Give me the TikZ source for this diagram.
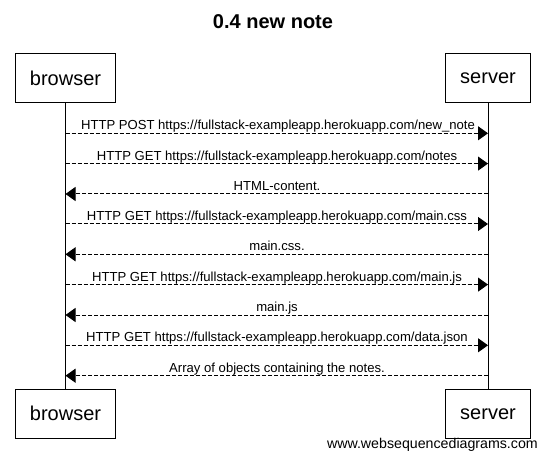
\documentclass[tikz,border=0pt]{standalone}
\usepackage{fontspec}
\setmainfont{Liberation Sans}
\usetikzlibrary{arrows.meta}
\begin{document}
\begin{tikzpicture}[x=1pt,y=-1pt,
  actor/.style={draw, line width=1pt, minimum height=49pt, inner sep=0pt, font=\fontsize{20}{24}\selectfont},
  msg/.style={draw, line width=1pt, dash pattern=on 4pt off 2pt, -{Triangle[length=10pt,width=14pt]}},
  lbl/.style={anchor=base, inner sep=0pt, font=\fontsize{13.1}{15}\selectfont},
  life/.style={draw, line width=1pt}]
\useasboundingbox (0,0) rectangle (546,462);
\fill[white] (0,0) rectangle (546,462);
\node[font=\bfseries\fontsize{20}{24}\selectfont, anchor=base, inner sep=0pt] (title) at (273,29) {0.4 new note};
\node[actor, minimum width=100pt] (bt) at (65.5,78.5) {browser};
\node[actor, minimum width=85pt] (st) at (488,78.5) {server};
\node[actor, minimum width=100pt, minimum height=48.5pt] (bb) at (65.5,413.75) {browser};
\node[actor, minimum width=85pt, minimum height=48.5pt] (sb) at (488,413.75) {server};
\draw[life] (bt.south) -- (bb.north);
\draw[life] (st.south) -- (sb.north);
\foreach \i/\y in {1/133.3,2/163.6,3/194,4/224,5/254.3,6/284.6,7/315,8/345.3,9/375.7}{
  \coordinate (b\i) at (65.5,\y);
  \coordinate (s\i) at (488,\y);
}
\draw[msg] (b1) -- (s1);
\draw[msg] (b2) -- (s2);
\draw[msg] (s3) -- (b3);
\draw[msg] (b4) -- (s4);
\draw[msg] (s5) -- (b5);
\draw[msg] (b6) -- (s6);
\draw[msg] (s7) -- (b7);
\draw[msg] (b8) -- (s8);
\draw[msg] (s9) -- (b9);
\node[lbl] (l1) at (278,129.8) {HTTP POST https://fullstack-exampleapp.herokuapp.com/new\_note};
\node[lbl] (l2) at (277,160.1) {HTTP GET https://fullstack-exampleapp.herokuapp.com/notes};
\node[lbl] (l3) at (277,190.5) {HTML-content.};
\node[lbl] (l4) at (277,220.5) {HTTP GET https://fullstack-exampleapp.herokuapp.com/main.css};
\node[lbl] (l5) at (277,250.8) {main.css.};
\node[lbl] (l6) at (277,281.1) {HTTP GET https://fullstack-exampleapp.herokuapp.com/main.js};
\node[lbl] (l7) at (277,311.5) {main.js};
\node[lbl] (l8) at (277,341.8) {HTTP GET https://fullstack-exampleapp.herokuapp.com/data.json};
\node[lbl] (l9) at (277,372.2) {Array of objects containing the notes.};
\node[anchor=base east, inner sep=0pt, font=\fontsize{14.2}{16}\selectfont] (web) at (538,448) {www.websequencediagrams.com};
\end{tikzpicture}
\end{document}
